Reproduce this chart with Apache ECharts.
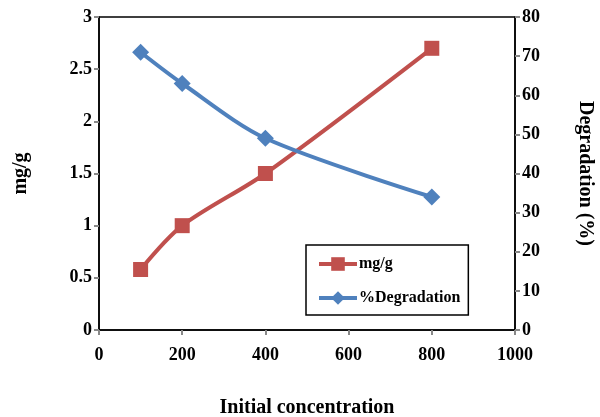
<!DOCTYPE html>
<html><head><meta charset="utf-8">
<script src="https://cdn.jsdelivr.net/npm/echarts@6/dist/echarts.min.js"></script>
<style>html,body{margin:0;padding:0;background:#fff}#c{width:600px;height:417px}</style>
</head><body><div id="c"></div>
<script>
const concentrations = [100, 200, 400, 800];
const mgPerG = [0.58, 1.0, 1.5, 2.7];
const degradation = [71, 63, 49, 34];
const xTicks = [0, 200, 400, 600, 800, 1000];

const FONT = '"Liberation Serif", "Times New Roman", serif';
const chart = echarts.init(document.getElementById('c'), null, {renderer: 'canvas'});
const labelStyle = {fontFamily: FONT, fontWeight: 'bold', fontSize: 18, color: '#000'};
const nameStyle = {fontFamily: FONT, fontWeight: 'bold', fontSize: 20, color: '#000'};
chart.setOption({
  animation: false,
  backgroundColor: '#fff',
  grid: {left: 99, right: 85, top: 17, bottom: 87, show: true, borderColor: '#000', borderWidth: 1.5,
         backgroundColor: 'transparent', containLabel: false, outerBoundsMode: 'none'},
  legend: {
    left: 306, top: 245,
    orient: 'vertical', padding: [11, 8, 9, 11], itemGap: 18,
    itemWidth: 38, itemHeight: 17,
    borderColor: '#000', borderWidth: 1.5, backgroundColor: '#fff',
    lineStyle: {width: 4},
    textStyle: {fontFamily: FONT, fontWeight: 'bold', fontSize: 16, color: '#000', padding: [0, 0, 0, -3]},
    data: ['mg/g', '%Degradation']
  },
  xAxis: {
    type: 'value', min: xTicks[0], max: xTicks[xTicks.length - 1], interval: 200,
    name: 'Initial concentration', nameLocation: 'middle', nameGap: 68,
    nameTextStyle: nameStyle,
    axisLine: {lineStyle: {color: '#000', width: 1.5}},
    axisTick: {show: true, length: 5, lineStyle: {color: '#888', width: 2}},
    axisLabel: Object.assign({margin: 16, formatter: v => String(v)}, labelStyle),
    splitLine: {show: false}
  },
  yAxis: [{
    type: 'value', min: 0, max: 3, interval: 0.5, position: 'left',
    name: 'mg/g', nameLocation: 'middle', nameGap: 68, nameRotate: 90,
    nameTextStyle: nameStyle,
    axisLine: {show: true, lineStyle: {color: '#000', width: 1.5}},
    axisTick: {show: true, length: 5, lineStyle: {color: '#888', width: 2}},
    axisLabel: Object.assign({margin: 7, formatter: v => String(v)}, labelStyle),
    splitLine: {show: false}
  }, {
    type: 'value', min: 0, max: 80, interval: 10, position: 'right',
    name: 'Degradation (%)', nameLocation: 'middle', nameGap: 60, nameRotate: -90,
    nameTextStyle: nameStyle,
    axisLine: {show: true, lineStyle: {color: '#000', width: 1.5}},
    axisTick: {show: true, length: 5, lineStyle: {color: '#888', width: 2}},
    axisLabel: Object.assign({margin: 7, formatter: v => String(v)}, labelStyle),
    splitLine: {show: false}
  }],
  series: [{
    name: 'mg/g', type: 'line', yAxisIndex: 0, smooth: 0.3,
    data: concentrations.map((x, i) => [x, mgPerG[i]]),
    symbol: 'rect', symbolSize: 15,
    lineStyle: {color: '#C0504D', width: 4},
    itemStyle: {color: '#C0504D'}
  }, {
    name: '%Degradation', type: 'line', yAxisIndex: 1, smooth: 0.3,
    data: concentrations.map((x, i) => [x, degradation[i]]),
    symbol: 'diamond', symbolSize: 17,
    lineStyle: {color: '#4F81BD', width: 4},
    itemStyle: {color: '#4F81BD'}
  }]
});
</script></body></html>
